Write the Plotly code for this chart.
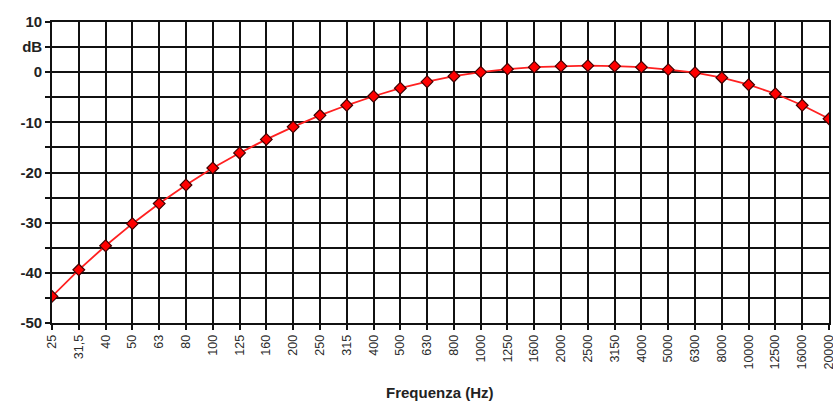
import plotly.graph_objects as go

freqs = ["25", "31,5", "40", "50", "63", "80", "100", "125", "160", "200", "250", "315",
         "400", "500", "630", "800", "1000", "1250", "1600", "2000", "2500", "3150",
         "4000", "5000", "6300", "8000", "10000", "12500", "16000", "20000"]
db_values = [-44.7, -39.4, -34.6, -30.2, -26.2, -22.5, -19.1, -16.1, -13.4, -10.9,
             -8.6, -6.6, -4.8, -3.2, -1.9, -0.8, 0.0, 0.6, 1.0, 1.2,
             1.3, 1.2, 1.0, 0.5, -0.1, -1.1, -2.5, -4.3, -6.6, -9.3]
y_tickvals = [10, 5, 0, -5, -10, -15, -20, -25, -30, -35, -40, -45, -50]
y_ticktext = ["10", "dB", "0", "", "-10", "", "-20", "", "-30", "", "-40", "", "-50"]
x_title = "Frequenza (Hz)"

W, H = 833, 401
ML, MR, MT, MB = 52, 4, 22, 78

fig = go.Figure()
fig.add_trace(go.Scatter(
    x=freqs, y=db_values, mode="lines+markers",
    line=dict(color="#ff2020", width=1.8),
    marker=dict(symbol="diamond", size=9, color="#ff0000",
                line=dict(color="#400000", width=1.2)),
    showlegend=False,
))

fig.update_layout(
    width=W, height=H,
    margin=dict(l=ML, r=MR, t=MT, b=MB),
    paper_bgcolor="white", plot_bgcolor="white",
    font=dict(family="Liberation Sans, Arial, sans-serif", color="#222222"),
    xaxis=dict(
        type="category", range=[0, len(freqs) - 1], automargin=False,
        showgrid=True, gridcolor="#111111", gridwidth=1.6,
        showline=True, linecolor="#111111", linewidth=1.6, mirror=True,
        ticks="outside", ticklen=5, tickcolor="#111111", tickwidth=1.5,
        tickangle=-90, tickfont=dict(size=12.5, color="#2a2a2a"),
    ),
    yaxis=dict(
        range=[-50, 10], tickvals=y_tickvals, ticktext=y_ticktext, automargin=False,
        showgrid=True, gridcolor="#111111", gridwidth=1.6,
        showline=True, linecolor="#111111", linewidth=1.6, mirror=True,
        zeroline=False,
        ticks="outside", ticklen=5, tickcolor="#111111", tickwidth=1.5,
        tickfont=dict(size=15, color="#222222", weight="bold"),
    ),
    annotations=[dict(
        text="<b>" + x_title + "</b>",
        x=(440 - ML) / (W - ML - MR), xref="paper",
        y=(H - MB - 392) / (H - MT - MB), yref="paper", yanchor="middle",
        showarrow=False, font=dict(size=15, color="#222222"),
    )],
)

fig.write_html("out.html", config={"displayModeBar": False},
               post_script="document.body.style.margin='0';document.body.style.padding='0';")
